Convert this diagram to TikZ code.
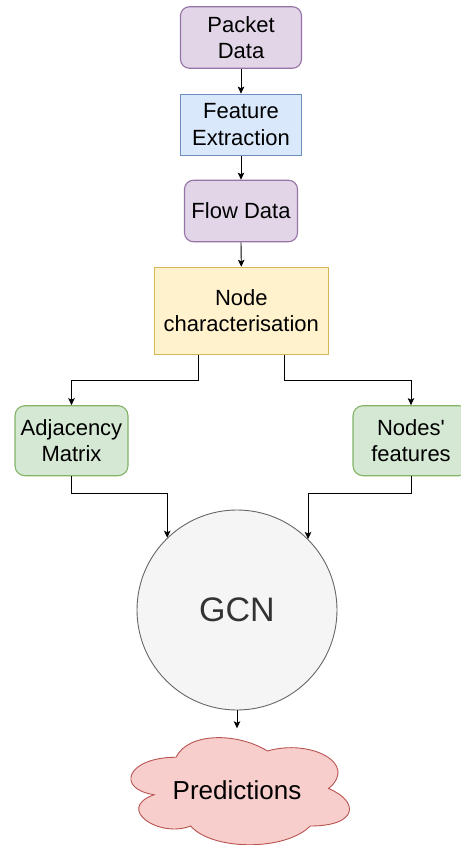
\documentclass[tikz,border=0pt]{standalone}
\usepackage{fontspec}
\setmainfont{Liberation Sans}[Ligatures=TeXOff]
\usetikzlibrary{arrows.meta,calc}
\definecolor{purF}{HTML}{E1D5E7}\definecolor{purD}{HTML}{9673A6}
\definecolor{bluF}{HTML}{DAE8FC}\definecolor{bluD}{HTML}{6C8EBF}
\definecolor{yelF}{HTML}{FFF2CC}\definecolor{yelD}{HTML}{D6B656}
\definecolor{grnF}{HTML}{D5E8D4}\definecolor{grnD}{HTML}{82B366}
\definecolor{gryF}{HTML}{F5F5F5}\definecolor{gryD}{HTML}{666666}
\definecolor{redF}{HTML}{F8CECC}\definecolor{redD}{HTML}{B85450}
\definecolor{gcnT}{HTML}{333333}
\begin{document}
\begin{tikzpicture}[x=1pt,y=-1pt,
  box/.style={draw,line width=1.1pt,inner sep=0pt,align=center,
    font=\fontsize{22}{26.5}\selectfont},
  purbox/.style={box,fill=purF,draw=purD,rounded corners=9pt},
  blubox/.style={box,fill=bluF,draw=bluD},
  yelbox/.style={box,fill=yelF,draw=yelD},
  grnbox/.style={box,fill=grnF,draw=grnD,rounded corners=10pt,minimum width=113pt,minimum height=70pt},
  arr/.style={draw=black,line width=0.9pt,-{Stealth[length=7pt,width=6.5pt,inset=1.5pt]}}
]
\useasboundingbox (0,0) rectangle (460,845);
\node[purbox,minimum width=121pt,minimum height=61.5pt] (pd) at (241,37.5) {Packet\\Data};
\node[blubox,minimum width=121.5pt,minimum height=61pt] (fe) at (241,124.7) {Feature\\Extraction};
\node[purbox,minimum width=113pt,minimum height=61.5pt] (fd) at (241,211) {Flow Data};
\node[yelbox,minimum width=174pt,minimum height=87pt] (nc) at (241.3,310.8) {Node\\characterisation};
\node[grnbox] (adj) at (71.5,440.7) {Adjacency\\Matrix};
\node[grnbox,minimum width=116pt] (nf) at (411,440.7) {Nodes{\char"27}\\features};
\node[circle,draw=gryD,fill=gryF,line width=0.9pt,minimum size=200pt,inner sep=0pt,
  text=gcnT,font=\fontsize{34}{40}\selectfont] (gcn) at (237,610) {GCN};
\draw[fill=redF,draw=redD,line width=0.9pt]
  (176,757.25) .. controls (127.2,757.25) and (115,788.5) .. (154.04,794.75)
  .. controls (115,808.5) and (158.92,838.5) .. (190.64,826)
  .. controls (212.6,851) and (285.8,851) .. (310.2,826)
  .. controls (359,826) and (359,801) .. (328.5,788.5)
  .. controls (359,763.5) and (310.2,738.5) .. (267.5,751)
  .. controls (237,732.25) and (188.2,732.25) .. (176,757.25) -- cycle;
\node[inner sep=0pt,minimum width=244pt,minimum height=125pt,
  font=\fontsize{26}{31}\selectfont] (pred) at (237,790) {Predictions};
\draw[arr] (pd.south) -- (fe.north);
\draw[arr] (fe.south) -- (fd.north);
\draw[arr] (fd.south) -- (nc.north);
\draw[arr] ([xshift=-43.3pt]nc.south) -- ++(0,26) -| (adj.north);
\draw[arr] ([xshift=43.3pt]nc.south) -- ++(0,26) -| (nf.north);
\draw[arr] (adj.south) -- ++(0,17.5) -| (gcn.134.4);
\draw[arr] (nf.south) -- ++(0,17.5) -| (gcn.45.6);
\draw[arr] (gcn.south) -- ([yshift=-1pt]pred.north);
\end{tikzpicture}
\end{document}
